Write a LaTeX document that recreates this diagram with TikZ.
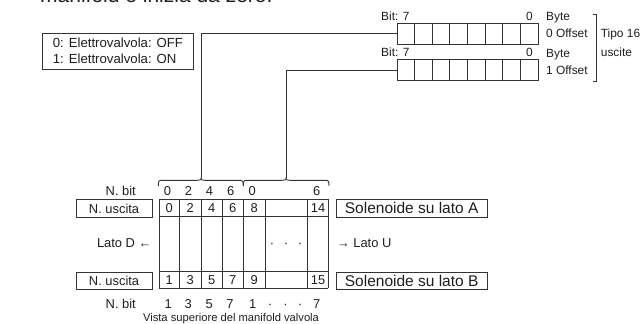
\documentclass[tikz,border=0pt]{standalone}
\usepackage{fontspec}
\setmainfont{Liberation Sans}
\definecolor{ln}{HTML}{333333}
\definecolor{txt}{HTML}{1E1E1E}
\begin{document}
\begin{tikzpicture}[x=1pt,y=-1pt,
  lnst/.style={draw=ln, line width=0.9pt},
  lbl/.style={font=\fontsize{12.9}{14}\selectfont, inner sep=0, text=txt},
  leg/.style={font=\fontsize{13.2}{15}\selectfont, inner sep=0, text=txt},
  sml/.style={font=\fontsize{11.9}{13}\selectfont, inner sep=0, text=txt},
  boxed/.style={draw=ln, line width=0.9pt, inner sep=0, minimum height=17.4pt, anchor=north west, text=txt},
  sol/.style={boxed, font=\fontsize{15.5}{17}\selectfont, minimum width=151pt},
  nus/.style={boxed, font=\fontsize{12.9}{14}\selectfont, minimum width=75.8pt},
  reg/.style={draw=ln, line width=0.9pt, inner sep=0, minimum width=141.3pt, minimum height=21pt, anchor=north west}]
\useasboundingbox (0,0) rectangle (640,324);

% clipped heading
\node[anchor=base west, inner sep=0, text=txt, font=\fontsize{21}{24}\selectfont] (head) at (40,2.8) {manifold è inizia da zero.};

% legend
\node[boxed, minimum width=151pt, minimum height=35.5pt] (legend) at (42,33) {};
\node[leg, anchor=base west] (leg1) at (52.7,47.5) {0: Elettrovalvola: OFF};
\node[leg, anchor=base west] (leg2) at (52.7,63) {1: Elettrovalvola: ON};

% registers
\node[reg] (reg0) at (396.7,22.7) {};
\node[reg] (reg1) at (396.7,59.3) {};
\foreach \i in {1,...,7} {
  \draw[lnst] (396.7+\i*17.66,22.7) -- ++(0,21);
  \draw[lnst] (396.7+\i*17.66,59.3) -- ++(0,21);
}
\node[sml, anchor=base west] (bitA) at (381,20.7) {Bit: 7};
\node[sml, anchor=base] (zeroA) at (529.5,20.7) {0};
\node[sml, anchor=base west] (byteA) at (546,20.7) {Byte};
\node[sml, anchor=base west] (offA) at (546,37) {0 Offset};
\node[sml, anchor=base west] (bitB) at (381,56.7) {Bit: 7};
\node[sml, anchor=base] (zeroB) at (529.5,56.7) {0};
\node[sml, anchor=base west] (byteB) at (546,57) {Byte};
\node[sml, anchor=base west] (offB) at (546,74) {1 Offset};
\draw[lnst] (592.5,14.3) -- (596.7,14.3) -- (596.7,81) -- (592.5,81);
\node[sml, anchor=base west] (tipo) at (600.7,37.7) {Tipo 16};
\node[sml, anchor=base west] (usc) at (600.7,56.7) {uscite};

% braces and connectors
\coordinate (tipA) at (201,178.3);
\coordinate (tipB) at (286,178.3);
\foreach \a/\m/\b in {158.3/201/243.3, 243.3/286/329} {
  \draw[lnst] (\a,186) .. controls (\a,181) and (\a+0.5,180.3) .. (\a+4,180.3)
    -- (\m-4,180.3) .. controls (\m-1,180.3) and (\m,180) .. (\m,178.3)
    .. controls (\m,180) and (\m+1,180.3) .. (\m+4,180.3)
    -- (\b-4,180.3) .. controls (\b-0.5,180.3) and (\b,181) .. (\b,186);
}
\draw[lnst] (reg0.west) -| (tipA);
\draw[lnst] (reg1.west) -| (tipB);

% table
\foreach \x in {159,179.3,201,222.3,243.3,265,307.7,328.3}
  \draw[lnst] (\x,199.3) -- (\x,288.3);
\foreach \y in {199.3,216.7,271.7,288.3}
  \draw[lnst] (159,\y) -- (328.3,\y);
\foreach \x/\t in {169.2/0,190.2/2,211.7/4,232.8/6,254.2/8,318/14}
  \node[lbl, anchor=base] at (\x,212.8) {\t};
\foreach \x/\t in {169.2/1,190.2/3,211.7/5,232.8/7,254.2/9,318/15}
  \node[lbl, anchor=base] at (\x,284.8) {\t};

% bit rows
\node[lbl, anchor=base east] (nbitA) at (136,195) {N. bit};
\foreach \x/\t in {167.5/0,188.5/2,209.5/4,230.7/6,252.3/0,316.7/6}
  \node[lbl, anchor=base] at (\x,195) {\t};
\node[lbl, anchor=base east] (nbitB) at (136,308.5) {N. bit};
\foreach \x/\t in {168.3/1,188.3/3,209.3/5,230/7,252.7/1,270/·,285.5/·,300/·,316.7/7}
  \node[lbl, anchor=base] at (\x,308.5) {\t};

% labels
\node[nus] (nusA) at (75.7,199.3) {N. uscita};
\node[nus] (nusB) at (75.7,271.7) {N. uscita};
\node[sol] (solA) at (335.7,199.3) {Solenoide su lato A};
\node[sol] (solB) at (335.7,271.7) {Solenoide su lato B};
\node[lbl, anchor=base east] (latoD) at (151.7,247.5) {Lato D ←};
\node[lbl, anchor=base west] (latoU) at (336.7,247.5) {→ Lato U};
\foreach \x in {272,286,300}
  \node[lbl, anchor=base] at (\x,247.5) {·};
\node[anchor=base, inner sep=0, text=txt, font=\fontsize{11.2}{13}\selectfont] (vista) at (231,321) {Vista superiore del manifold valvola};
\end{tikzpicture}
\end{document}
